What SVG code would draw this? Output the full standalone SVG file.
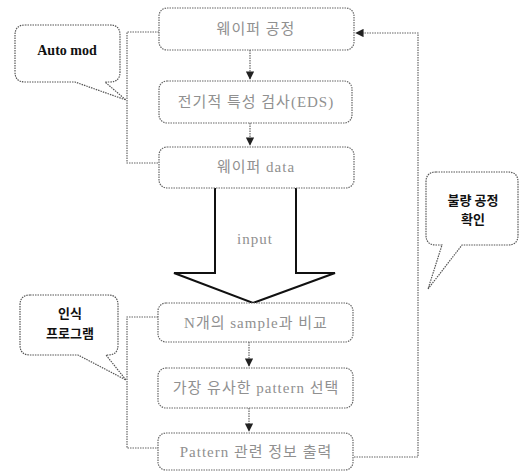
<svg xmlns="http://www.w3.org/2000/svg" width="520" height="472" viewBox="0 0 520 472">
<defs>
<style>
.box{fill:#fff;stroke:#666;stroke-width:1.2;stroke-dasharray:1.5 1}
.lbl{font-family:"Liberation Serif","Noto Sans CJK KR",serif;font-size:15px;letter-spacing:1px;fill:#909090;text-anchor:middle}
.con{fill:none;stroke:#666;stroke-width:1.2;stroke-dasharray:1.5 1}
.bub{fill:#fff;stroke:#555;stroke-width:1.2;stroke-dasharray:1.5 1}
.ct{font-family:"Noto Sans CJK KR","Liberation Sans",sans-serif;font-size:13px;font-weight:bold;fill:#111;text-anchor:middle}
</style>
<marker id="ah" viewBox="0 0 10 10" refX="9" refY="5" markerWidth="7" markerHeight="7" orient="auto">
<path d="M0,0 L10,5 L0,10 z" fill="#222"/>
</marker>
</defs>
<rect width="520" height="472" fill="#fff"/>
<g id="connectors">
<path class="con" d="M250,50 V79" marker-end="url(#ah)"/>
<path class="con" d="M250,123 V145" marker-end="url(#ah)"/>
<path class="con" d="M249,342 V366" marker-end="url(#ah)"/>
<path class="con" d="M249,408 V431" marker-end="url(#ah)"/>
<path class="con" d="M159,32 H127 V163 H159"/>
<path class="con" d="M158,317 H127 V448 H158"/>
<path class="con" d="M354,457 H418 V33 H356" marker-end="url(#ah)"/>
<path d="M215,188 V273 H174 L253,303 L335,273 H296 V188" fill="#fff" stroke="#111" stroke-width="2" stroke-linejoin="miter"/>
<text class="lbl" x="255" y="244">input</text>
</g>
<g id="n1"><rect class="box" x="159" y="8" width="195" height="42" rx="8"/><text class="lbl" x="256" y="34">웨이퍼 공정</text></g>
<g id="n2"><rect class="box" x="159" y="81" width="193" height="42" rx="8"/><text class="lbl" x="256" y="107">전기적 특성 검사(EDS)</text></g>
<g id="n3"><rect class="box" x="159" y="147" width="195" height="41" rx="8"/><text class="lbl" x="256" y="172">웨이퍼 data</text></g>
<g id="n4"><rect class="box" x="158" y="303" width="195" height="39" rx="8"/><text class="lbl" x="256" y="328">N개의 sample과 비교</text></g>
<g id="n5"><rect class="box" x="158" y="368" width="195" height="40" rx="8"/><text class="lbl" x="256" y="393">가장 유사한 pattern 선택</text></g>
<g id="n6"><rect class="box" x="158" y="433" width="195" height="37" rx="8"/><text class="lbl" x="256" y="457">Pattern 관련 정보 출력</text></g>
<g id="c1">
<path class="bub" d="M25,25 H110 Q120,25 120,35 V72 Q120,82 110,82 H105 L126,100 L75,82 H25 Q15,82 15,72 V35 Q15,25 25,25 Z"/>
<text x="67" y="55" font-family="'Liberation Serif',serif" font-size="14" font-weight="bold" fill="#111" text-anchor="middle">Auto mod</text>
</g>
<g id="c2">
<path class="bub" d="M30,295 H108 Q118,295 118,305 V345 Q118,355 108,355 H106 L126,380 L78,355 H30 Q20,355 20,345 V305 Q20,295 30,295 Z"/>
<text class="ct" x="70" y="318">인식</text>
<text class="ct" x="70" y="338">프로그램</text>
</g>
<g id="c3">
<path class="bub" d="M436,172 H508 Q518,172 518,182 V235 Q518,245 508,245 H462 L428,289 L442,245 H436 Q426,245 426,235 V182 Q426,172 436,172 Z"/>
<text class="ct" x="473" y="205">불량 공정</text>
<text class="ct" x="473" y="224">확인</text>
</g>
</svg>
